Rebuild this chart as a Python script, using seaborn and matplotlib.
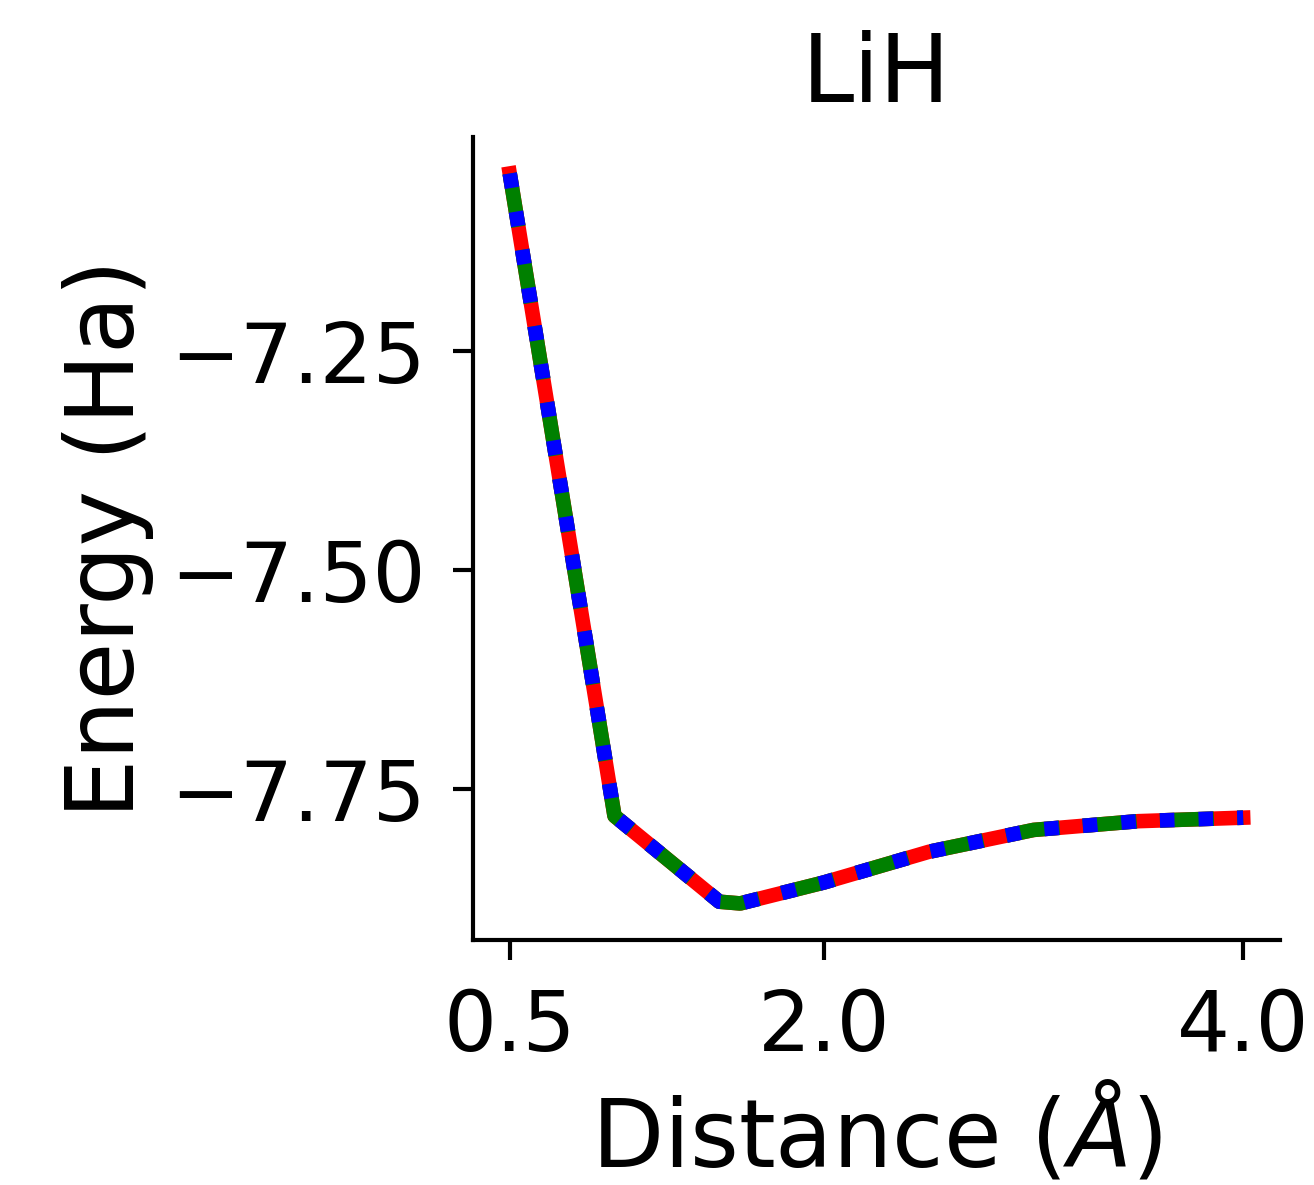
import matplotlib
matplotlib.use("Agg")
import matplotlib.pyplot as plt
import seaborn as sns
import pandas as pd

# Data
distance = [0.5, 1.0, 1.5, 1.6, 2.0, 2.5, 3.0, 3.5, 4.0]
exact_energy = [-7.047, -7.781, -7.879, -7.881, -7.857, -7.822, -7.797, -7.787, -7.783]
vqe_energy = [-7.047, -7.781, -7.879, -7.881, -7.857, -7.822, -7.797, -7.787, -7.783]
model_energy = [-7.047, -7.781, -7.879, -7.881, -7.857, -7.822, -7.797, -7.787, -7.783]
x_ticks = [0.5, 2.0, 4.0]
y_ticks = [-7.75, -7.50, -7.25]

sns.set_style("white")
plt.rcParams['font.family'] = ['DejaVu Sans']
plt.rcParams['text.color'] = 'black'
plt.rcParams['axes.labelcolor'] = 'black'
plt.rcParams['xtick.color'] = 'black'
plt.rcParams['ytick.color'] = 'black'

fig = plt.figure(figsize=(4.38, 3.95), dpi=300)
ax = fig.add_axes([0.36, 0.2068, 0.974 - 0.36, 0.8844 - 0.2068])

df = pd.DataFrame({"distance": distance, "exact": exact_energy,
                   "vqe": vqe_energy, "model": model_energy})

lw = 3.5
sns.lineplot(data=df, x="distance", y="exact", ax=ax, color="red",
             linestyle="-", linewidth=lw, solid_capstyle="projecting")
sns.lineplot(data=df, x="distance", y="vqe", ax=ax, color="green",
             linestyle="--", linewidth=lw, dash_capstyle="butt")
sns.lineplot(data=df, x="distance", y="model", ax=ax, color="blue",
             linestyle=":", linewidth=lw, dash_capstyle="butt")

ax.set_xticks(x_ticks)
ax.set_xticklabels([f"{t:.1f}" for t in x_ticks])
ax.set_yticks(y_ticks)

ax.set_title("LiH", fontsize=22.5, pad=8.5, color="black")
ax.set_xlabel(r"Distance ($\AA$)", fontsize=22.5, color="black", labelpad=3.5)
ax.set_ylabel("Energy (Ha)", fontsize=22.5, color="black")
ax.tick_params(axis="both", labelsize=20, length=4.8, width=1.0, pad=6.5,
               bottom=True, left=True, colors="black")
for s in ["left", "bottom"]:
    ax.spines[s].set_linewidth(1.0)
    ax.spines[s].set_color("black")
sns.despine(ax=ax)

fig.savefig("out.png", dpi=300)
